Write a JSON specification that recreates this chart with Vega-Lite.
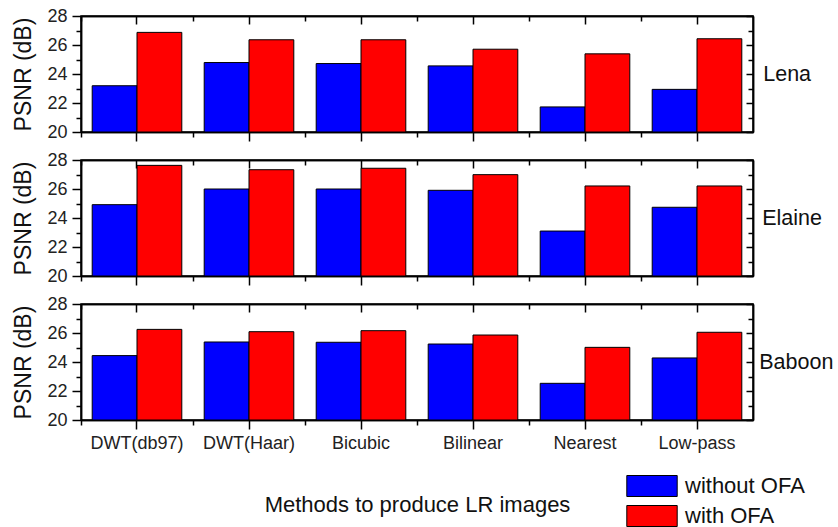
{
  "$schema": "https://vega.github.io/schema/vega-lite/v6.json",
  "padding": {"left": 12, "top": 6, "right": 0, "bottom": 0},
  "bounds": "flush",
  "datasets": {
    "psnr": [
      {"Image": "Lena", "Method": "DWT(db97)", "Condition": "without OFA", "PSNR": 23.19},
      {"Image": "Lena", "Method": "DWT(db97)", "Condition": "with OFA", "PSNR": 26.87},
      {"Image": "Lena", "Method": "DWT(Haar)", "Condition": "without OFA", "PSNR": 24.79},
      {"Image": "Lena", "Method": "DWT(Haar)", "Condition": "with OFA", "PSNR": 26.36},
      {"Image": "Lena", "Method": "Bicubic", "Condition": "without OFA", "PSNR": 24.72},
      {"Image": "Lena", "Method": "Bicubic", "Condition": "with OFA", "PSNR": 26.36},
      {"Image": "Lena", "Method": "Bilinear", "Condition": "without OFA", "PSNR": 24.56},
      {"Image": "Lena", "Method": "Bilinear", "Condition": "with OFA", "PSNR": 25.71},
      {"Image": "Lena", "Method": "Nearest", "Condition": "without OFA", "PSNR": 21.73},
      {"Image": "Lena", "Method": "Nearest", "Condition": "with OFA", "PSNR": 25.39},
      {"Image": "Lena", "Method": "Low-pass", "Condition": "without OFA", "PSNR": 22.94},
      {"Image": "Lena", "Method": "Low-pass", "Condition": "with OFA", "PSNR": 26.43},
      {"Image": "Elaine", "Method": "DWT(db97)", "Condition": "without OFA", "PSNR": 24.92},
      {"Image": "Elaine", "Method": "DWT(db97)", "Condition": "with OFA", "PSNR": 27.63},
      {"Image": "Elaine", "Method": "DWT(Haar)", "Condition": "without OFA", "PSNR": 26.0},
      {"Image": "Elaine", "Method": "DWT(Haar)", "Condition": "with OFA", "PSNR": 27.33},
      {"Image": "Elaine", "Method": "Bicubic", "Condition": "without OFA", "PSNR": 26.0},
      {"Image": "Elaine", "Method": "Bicubic", "Condition": "with OFA", "PSNR": 27.43},
      {"Image": "Elaine", "Method": "Bilinear", "Condition": "without OFA", "PSNR": 25.91},
      {"Image": "Elaine", "Method": "Bilinear", "Condition": "with OFA", "PSNR": 26.99},
      {"Image": "Elaine", "Method": "Nearest", "Condition": "without OFA", "PSNR": 23.10},
      {"Image": "Elaine", "Method": "Nearest", "Condition": "with OFA", "PSNR": 26.21},
      {"Image": "Elaine", "Method": "Low-pass", "Condition": "without OFA", "PSNR": 24.74},
      {"Image": "Elaine", "Method": "Low-pass", "Condition": "with OFA", "PSNR": 26.21},
      {"Image": "Baboon", "Method": "DWT(db97)", "Condition": "without OFA", "PSNR": 24.44},
      {"Image": "Baboon", "Method": "DWT(db97)", "Condition": "with OFA", "PSNR": 26.25},
      {"Image": "Baboon", "Method": "DWT(Haar)", "Condition": "without OFA", "PSNR": 25.38},
      {"Image": "Baboon", "Method": "DWT(Haar)", "Condition": "with OFA", "PSNR": 26.09},
      {"Image": "Baboon", "Method": "Bicubic", "Condition": "without OFA", "PSNR": 25.36},
      {"Image": "Baboon", "Method": "Bicubic", "Condition": "with OFA", "PSNR": 26.16},
      {"Image": "Baboon", "Method": "Bilinear", "Condition": "without OFA", "PSNR": 25.24},
      {"Image": "Baboon", "Method": "Bilinear", "Condition": "with OFA", "PSNR": 25.86},
      {"Image": "Baboon", "Method": "Nearest", "Condition": "without OFA", "PSNR": 22.53},
      {"Image": "Baboon", "Method": "Nearest", "Condition": "with OFA", "PSNR": 25.01},
      {"Image": "Baboon", "Method": "Low-pass", "Condition": "without OFA", "PSNR": 24.28},
      {"Image": "Baboon", "Method": "Low-pass", "Condition": "with OFA", "PSNR": 26.05}
    ]
  },
  "data": {"name": "psnr"},
  "spacing": 28,
  "vconcat": [
    {
      "width": 672, "height": 116,
      "transform": [{"filter": "datum.Image === 'Lena'"}],
      "layer": [
        {"mark": {"type": "bar", "stroke": "black", "strokeWidth": 1},
         "encoding": {
           "x": {"field": "Method", "type": "nominal", "sort": ["DWT(db97)", "DWT(Haar)", "Bicubic", "Bilinear", "Nearest", "Low-pass"], "scale": {"paddingInner": 0.2, "paddingOuter": 0.1},
                 "axis": {"orient": "bottom", "title": null, "labels": false, "tickSize": 9, "bandPosition": 0.5}},
           "xOffset": {"field": "Condition", "sort": ["without OFA", "with OFA"], "scale": {"paddingInner": 0, "paddingOuter": 0}},
           "y": {"field": "PSNR", "type": "quantitative", "scale": {"domain": [20, 28], "nice": false, "zero": false},
                 "axis": {"orient": "left", "values": [20, 22, 24, 26, 28], "title": "PSNR (dB)", "tickSize": 9}},
           "y2": {"datum": 20},
           "color": {"field": "Condition", "type": "nominal", "sort": ["without OFA", "with OFA"], "scale": {"domain": ["without OFA", "with OFA"], "range": ["#0000FF", "#FF0000"]}}
         }},
        {"mark": {"type": "bar", "opacity": 0},
         "encoding": {
           "x": {"field": "Method", "type": "nominal", "sort": ["DWT(db97)", "DWT(Haar)", "Bicubic", "Bilinear", "Nearest", "Low-pass"],
                 "axis": {"orient": "top", "title": null, "labels": false, "tickSize": -8, "bandPosition": 0.5}},
           "y": {"field": "PSNR", "type": "quantitative",
                 "axis": {"orient": "right", "values": [20, 22, 24, 26, 28], "labels": false, "tickSize": -7, "title": "Lena", "titleAngle": 0, "titleAlign": "left", "titleBaseline": "middle", "titlePadding": 9}},
           "y2": {"datum": 20}
         }},
        {"mark": {"type": "bar", "opacity": 0},
         "encoding": {
           "x": {"field": "Method", "type": "nominal", "sort": ["DWT(db97)", "DWT(Haar)", "Bicubic", "Bilinear", "Nearest", "Low-pass"],
                 "axis": {"orient": "bottom", "title": null, "labels": false, "tickSize": 5, "bandPosition": 0.5, "tickOffset": -56}},
           "y": {"field": "PSNR", "type": "quantitative",
                 "axis": {"orient": "left", "values": [21, 23, 25, 27], "labels": false, "tickSize": 5, "title": null}},
           "y2": {"datum": 20}
         }},
        {"mark": {"type": "bar", "opacity": 0},
         "encoding": {
           "x": {"field": "Method", "type": "nominal", "sort": ["DWT(db97)", "DWT(Haar)", "Bicubic", "Bilinear", "Nearest", "Low-pass"],
                 "axis": {"orient": "top", "title": null, "labels": false, "tickSize": -5, "bandPosition": 0.5, "tickOffset": -56}},
           "y": {"field": "PSNR", "type": "quantitative",
                 "axis": {"orient": "right", "values": [21, 23, 25, 27], "labels": false, "tickSize": -5, "title": null}},
           "y2": {"datum": 20}
         }}
      ],
      "resolve": {"axis": {"x": "independent", "y": "independent"}}
    },
    {
      "width": 672, "height": 116,
      "transform": [{"filter": "datum.Image === 'Elaine'"}],
      "layer": [
        {"mark": {"type": "bar", "stroke": "black", "strokeWidth": 1},
         "encoding": {
           "x": {"field": "Method", "type": "nominal", "sort": ["DWT(db97)", "DWT(Haar)", "Bicubic", "Bilinear", "Nearest", "Low-pass"], "scale": {"paddingInner": 0.2, "paddingOuter": 0.1},
                 "axis": {"orient": "bottom", "title": null, "labels": false, "tickSize": 9, "bandPosition": 0.5}},
           "xOffset": {"field": "Condition", "sort": ["without OFA", "with OFA"], "scale": {"paddingInner": 0, "paddingOuter": 0}},
           "y": {"field": "PSNR", "type": "quantitative", "scale": {"domain": [20, 28], "nice": false, "zero": false},
                 "axis": {"orient": "left", "values": [20, 22, 24, 26, 28], "title": "PSNR (dB)", "tickSize": 9}},
           "y2": {"datum": 20},
           "color": {"field": "Condition", "type": "nominal", "sort": ["without OFA", "with OFA"], "scale": {"domain": ["without OFA", "with OFA"], "range": ["#0000FF", "#FF0000"]}}
         }},
        {"mark": {"type": "bar", "opacity": 0},
         "encoding": {
           "x": {"field": "Method", "type": "nominal", "sort": ["DWT(db97)", "DWT(Haar)", "Bicubic", "Bilinear", "Nearest", "Low-pass"],
                 "axis": {"orient": "top", "title": null, "labels": false, "tickSize": -8, "bandPosition": 0.5}},
           "y": {"field": "PSNR", "type": "quantitative",
                 "axis": {"orient": "right", "values": [20, 22, 24, 26, 28], "labels": false, "tickSize": -7, "title": "Elaine", "titleAngle": 0, "titleAlign": "left", "titleBaseline": "middle", "titlePadding": 8}},
           "y2": {"datum": 20}
         }},
        {"mark": {"type": "bar", "opacity": 0},
         "encoding": {
           "x": {"field": "Method", "type": "nominal", "sort": ["DWT(db97)", "DWT(Haar)", "Bicubic", "Bilinear", "Nearest", "Low-pass"],
                 "axis": {"orient": "bottom", "title": null, "labels": false, "tickSize": 5, "bandPosition": 0.5, "tickOffset": -56}},
           "y": {"field": "PSNR", "type": "quantitative",
                 "axis": {"orient": "left", "values": [21, 23, 25, 27], "labels": false, "tickSize": 5, "title": null}},
           "y2": {"datum": 20}
         }},
        {"mark": {"type": "bar", "opacity": 0},
         "encoding": {
           "x": {"field": "Method", "type": "nominal", "sort": ["DWT(db97)", "DWT(Haar)", "Bicubic", "Bilinear", "Nearest", "Low-pass"],
                 "axis": {"orient": "top", "title": null, "labels": false, "tickSize": -5, "bandPosition": 0.5, "tickOffset": -56}},
           "y": {"field": "PSNR", "type": "quantitative",
                 "axis": {"orient": "right", "values": [21, 23, 25, 27], "labels": false, "tickSize": -5, "title": null}},
           "y2": {"datum": 20}
         }}
      ],
      "resolve": {"axis": {"x": "independent", "y": "independent"}}
    },
    {
      "width": 672, "height": 116,
      "transform": [{"filter": "datum.Image === 'Baboon'"}],
      "layer": [
        {"mark": {"type": "bar", "stroke": "black", "strokeWidth": 1},
         "encoding": {
           "x": {"field": "Method", "type": "nominal", "sort": ["DWT(db97)", "DWT(Haar)", "Bicubic", "Bilinear", "Nearest", "Low-pass"], "scale": {"paddingInner": 0.2, "paddingOuter": 0.1},
                 "axis": {"orient": "bottom", "title": "Methods to produce LR images", "labels": true, "labelAngle": 0, "labelPadding": 5, "tickSize": 9, "bandPosition": 0.5, "titlePadding": 42}},
           "xOffset": {"field": "Condition", "sort": ["without OFA", "with OFA"], "scale": {"paddingInner": 0, "paddingOuter": 0}},
           "y": {"field": "PSNR", "type": "quantitative", "scale": {"domain": [20, 28], "nice": false, "zero": false},
                 "axis": {"orient": "left", "values": [20, 22, 24, 26, 28], "title": "PSNR (dB)", "tickSize": 9}},
           "y2": {"datum": 20},
           "color": {"field": "Condition", "type": "nominal", "sort": ["without OFA", "with OFA"], "scale": {"domain": ["without OFA", "with OFA"], "range": ["#0000FF", "#FF0000"]}}
         }},
        {"mark": {"type": "bar", "opacity": 0},
         "encoding": {
           "x": {"field": "Method", "type": "nominal", "sort": ["DWT(db97)", "DWT(Haar)", "Bicubic", "Bilinear", "Nearest", "Low-pass"],
                 "axis": {"orient": "top", "title": null, "labels": false, "tickSize": -8, "bandPosition": 0.5}},
           "y": {"field": "PSNR", "type": "quantitative",
                 "axis": {"orient": "right", "values": [20, 22, 24, 26, 28], "labels": false, "tickSize": -7, "title": "Baboon", "titleAngle": 0, "titleAlign": "left", "titleBaseline": "middle", "titlePadding": 5}},
           "y2": {"datum": 20}
         }},
        {"mark": {"type": "bar", "opacity": 0},
         "encoding": {
           "x": {"field": "Method", "type": "nominal", "sort": ["DWT(db97)", "DWT(Haar)", "Bicubic", "Bilinear", "Nearest", "Low-pass"],
                 "axis": {"orient": "bottom", "title": null, "labels": false, "tickSize": 5, "bandPosition": 0.5, "tickOffset": -56}},
           "y": {"field": "PSNR", "type": "quantitative",
                 "axis": {"orient": "left", "values": [21, 23, 25, 27], "labels": false, "tickSize": 5, "title": null}},
           "y2": {"datum": 20}
         }},
        {"mark": {"type": "bar", "opacity": 0},
         "encoding": {
           "x": {"field": "Method", "type": "nominal", "sort": ["DWT(db97)", "DWT(Haar)", "Bicubic", "Bilinear", "Nearest", "Low-pass"],
                 "axis": {"orient": "top", "title": null, "labels": false, "tickSize": -5, "bandPosition": 0.5, "tickOffset": -56}},
           "y": {"field": "PSNR", "type": "quantitative",
                 "axis": {"orient": "right", "values": [21, 23, 25, 27], "labels": false, "tickSize": -5, "title": null}},
           "y2": {"datum": 20}
         }}
      ],
      "resolve": {"axis": {"x": "independent", "y": "independent"}}
    }
  ],
  "config": {
    "font": "Liberation Sans",
    "view": {"stroke": "black", "strokeWidth": 1.5},
    "axis": {
      "grid": false,
      "domainColor": "black", "domainWidth": 1.5,
      "tickColor": "black", "tickWidth": 1.5,
      "labelFont": "Liberation Sans", "labelFontSize": 18, "labelColor": "#222",
      "labelPadding": 5,
      "titleFont": "Liberation Sans", "titleFontSize": 23, "titleFontWeight": "normal", "titleColor": "#111",
      "titlePadding": 11
    },
    "axisRight": {"titleFontSize": 21.5},
    "axisX": {"titleFontSize": 22},
    "legend": {
      "orient": "none", "legendX": 560, "legendY": 459,
      "title": null,
      "direction": "vertical",
      "padding": 0,
      "symbolType": "M-2.4,-1H2.4V1H-2.4Z",
      "symbolSize": 441,
      "symbolStrokeColor": "black", "symbolStrokeWidth": 1, "symbolOpacity": 1,
      "labelFont": "Liberation Sans", "labelFontSize": 22, "labelColor": "#111",
      "labelOffset": 22, "rowPadding": 4
    }
  }
}
